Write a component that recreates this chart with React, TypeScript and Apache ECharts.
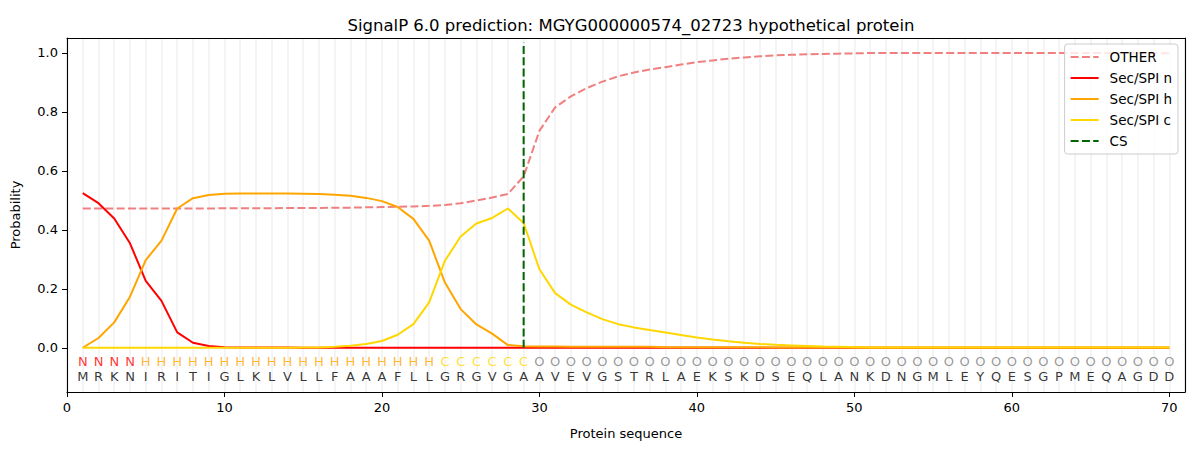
import React, { useEffect, useRef } from "react";
import * as echarts from "echarts";

const positions = Array.from({ length: 70 }, (_, i) => i + 1);
const aminoAcids = "MRKNIRITIGLKLVLLFAAAFLLGRGVGAAVEVGSTRLAEKSKDSEQLANKDNGMLEYQESGPMEQAGDD".split("");
const regionLabels = "NNNNHHHHHHHHHHHHHHHHHHHCCCCCCOOOOOOOOOOOOOOOOOOOOOOOOOOOOOOOOOOOOOOOOO".split("");

const otherProb = [
  0.472, 0.472, 0.472, 0.472, 0.472, 0.472, 0.472, 0.472, 0.472, 0.473,
  0.473, 0.473, 0.473, 0.474, 0.474, 0.474, 0.475, 0.475, 0.476, 0.477,
  0.478, 0.479, 0.481, 0.484, 0.490, 0.499, 0.509, 0.521, 0.581, 0.735,
  0.815, 0.852, 0.880, 0.902, 0.920, 0.933, 0.943, 0.951, 0.960, 0.968,
  0.974, 0.980, 0.984, 0.988, 0.991, 0.993, 0.995, 0.996, 0.997, 0.998,
  0.999, 0.999, 0.999, 0.999, 0.999, 0.999, 0.999, 0.999, 0.999, 0.999,
  0.999, 0.999, 0.999, 0.999, 0.999, 0.999, 0.999, 0.999, 0.998, 0.998,
];
const secN = [
  0.524, 0.490, 0.438, 0.354, 0.227, 0.159, 0.052, 0.017, 0.006, 0.002,
  0.001, 0.001, 0.001, 0.001, 0.0, 0.0, 0.0, 0.0, 0.0, 0.0,
  0.0, 0.0, 0.0, 0.0, 0.0, 0.0, 0.0, 0.0, 0.0, 0.0,
  0.0, 0.0, 0.0, 0.0, 0.0, 0.0, 0.0, 0.0, 0.0, 0.0,
  0.0, 0.0, 0.0, 0.0, 0.0, 0.0, 0.0, 0.0, 0.0, 0.0,
  0.0, 0.0, 0.0, 0.0, 0.0, 0.0, 0.0, 0.0, 0.0, 0.0,
  0.0, 0.0, 0.0, 0.0, 0.0, 0.0, 0.0, 0.0, 0.0, 0.0,
];
const secH = [
  0.0, 0.033, 0.086, 0.173, 0.297, 0.363, 0.472, 0.507, 0.518, 0.522,
  0.523, 0.523, 0.523, 0.523, 0.522, 0.521, 0.519, 0.515, 0.508, 0.497,
  0.477, 0.437, 0.363, 0.221, 0.131, 0.079, 0.048, 0.009, 0.005, 0.004,
  0.004, 0.003, 0.003, 0.003, 0.003, 0.003, 0.003, 0.002, 0.002, 0.002,
  0.002, 0.002, 0.002, 0.002, 0.001, 0.001, 0.001, 0.001, 0.001, 0.001,
  0.001, 0.001, 0.001, 0.001, 0.001, 0.001, 0.001, 0.001, 0.001, 0.001,
  0.001, 0.001, 0.001, 0.001, 0.001, 0.001, 0.001, 0.001, 0.001, 0.001,
];
const secC = [
  0.0, 0.0, 0.0, 0.0, 0.0, 0.0, 0.0, 0.0, 0.0, 0.0,
  0.0, 0.0, 0.0, 0.0, 0.001, 0.001, 0.003, 0.007, 0.013, 0.023,
  0.044, 0.080, 0.154, 0.295, 0.377, 0.421, 0.440, 0.472, 0.423, 0.266,
  0.185, 0.146, 0.120, 0.097, 0.080, 0.069, 0.060, 0.052, 0.043, 0.035,
  0.028, 0.022, 0.017, 0.013, 0.010, 0.008, 0.006, 0.004, 0.003, 0.002,
  0.001, 0.001, 0.001, 0.001, 0.001, 0.001, 0.001, 0.001, 0.001, 0.001,
  0.001, 0.001, 0.001, 0.001, 0.001, 0.001, 0.001, 0.001, 0.001, 0.001,
];
const cleavageSite = 29;
const xTicks = [0, 10, 20, 30, 40, 50, 60, 70];
const yTicks = [0, 0.2, 0.4, 0.6, 0.8, 1.0];

const FONT = "DejaVu Sans";
const labelColors: Record<string, string> = {
  N: "#ff0000",
  H: "#ffa500",
  C: "#ffd700",
  O: "#808080",
};

export default function App() {
  const ref = useRef<HTMLDivElement>(null);
  useEffect(() => {
    if (!ref.current) return;
    const chart = echarts.init(ref.current, undefined, { renderer: "svg" });
    const pair = (arr: number[]) => positions.map((p, i) => [p, arr[i]]);
    const lineSeries = (name: string, data: number[], color: string, dashed: boolean) => ({
      name,
      type: "line",
      data: pair(data),
      symbol: "none",
      lineStyle: { color, width: 2, type: dashed ? [8, 3.3] : "solid" },
      itemStyle: { color },
      z: 3,
    });
    const frameAxis = {
      axisLine: { show: true, onZero: false, lineStyle: { color: "#000", width: 1.1 } },
      axisTick: { show: false },
      axisLabel: { show: false },
      splitLine: { show: false },
    };
    chart.setOption({
      animation: false,
      title: {
        text: "SignalP 6.0 prediction: MGYG000000574_02723 hypothetical protein",
        left: 626,
        textAlign: "center",
        top: 12,
        textStyle: { fontFamily: FONT, fontSize: 16.5, fontWeight: "normal", color: "#000" },
      },
      grid: {
        left: 67,
        right: 15,
        top: 38,
        bottom: 58,
      },
      legend: {
        data: ["OTHER", "Sec/SPI n", "Sec/SPI h", "Sec/SPI c", "CS"],
        orient: "vertical",
        right: 22,
        top: 44,
        itemWidth: 28,
        itemHeight: 14,
        itemGap: 7,
        padding: [6, 6, 6, 5],
        backgroundColor: "rgba(255,255,255,0.8)",
        borderColor: "#cccccc",
        borderWidth: 1,
        borderRadius: 3,
        itemStyle: { opacity: 0, borderWidth: 0 },
        textStyle: { fontFamily: FONT, fontSize: 13.5, color: "#000", padding: [0, 0, 0, 6] },
      },
      xAxis: [
        {
          type: "value",
          min: 0,
          max: 71,
          interval: 10,
          name: "Protein sequence",
          nameLocation: "middle",
          nameGap: 35,
          nameTextStyle: { fontFamily: FONT, fontSize: 13, color: "#000" },
          axisLine: { show: true, onZero: false, lineStyle: { color: "#000", width: 1.1 } },
          axisTick: { show: true, length: 5, lineStyle: { color: "#000" }, customValues: xTicks },
          axisLabel: {
            fontFamily: FONT,
            fontSize: 13,
            color: "#000",
            margin: 9,
            customValues: xTicks,
            formatter: (v: number) => String(v),
          },
          splitLine: { show: false },
          z: 6,
        },
        {
          type: "value",
          min: 0,
          max: 71,
          position: "top",
          ...frameAxis,
          z: 6,
        },
        {
          type: "value",
          min: 0,
          max: 71,
          interval: 1,
          position: "bottom",
          axisLine: { show: false },
          axisTick: { show: false },
          axisLabel: { show: false },
          splitLine: { show: true, lineStyle: { color: "#f0f0f0", width: 1.5 } },
          z: 0,
        },
      ],
      yAxis: [
        {
          type: "value",
          min: -0.15,
          max: 1.05,
          name: "Probability",
          nameLocation: "middle",
          nameGap: 45,
          nameTextStyle: { fontFamily: FONT, fontSize: 13, color: "#000" },
          axisLine: { show: true, onZero: false, lineStyle: { color: "#000", width: 1.1 } },
          axisTick: { show: true, length: 5, lineStyle: { color: "#000" }, customValues: yTicks },
          axisLabel: {
            fontFamily: FONT,
            fontSize: 13,
            color: "#000",
            margin: 9,
            customValues: yTicks,
            formatter: (v: number) => v.toFixed(1),
          },
          splitLine: { show: false },
          z: 6,
        },
        {
          type: "value",
          min: -0.15,
          max: 1.05,
          position: "right",
          ...frameAxis,
          z: 6,
        },
      ],
      series: [
        lineSeries("OTHER", otherProb, "#f08080", true),
        lineSeries("Sec/SPI n", secN, "#ff0000", false),
        lineSeries("Sec/SPI h", secH, "#ffa500", false),
        lineSeries("Sec/SPI c", secC, "#ffd700", false),
        {
          name: "CS",
          type: "line",
          data: [
            [cleavageSite, 0],
            [cleavageSite, 1.035],
          ],
          symbol: "none",
          lineStyle: { color: "#006400", width: 2, type: [8, 3.3] },
          itemStyle: { color: "#006400" },
          z: 4,
        },
        {
          name: "regions",
          type: "scatter",
          symbolSize: 1,
          itemStyle: { color: "transparent" },
          silent: true,
          data: positions.map((p, i) => ({
            value: [p, -0.047],
            label: { color: labelColors[regionLabels[i]], formatter: regionLabels[i] },
          })),
          label: {
            show: true,
            position: "inside",
            fontFamily: FONT,
            fontSize: 13,
          },
          z: 5,
        },
        {
          name: "aa",
          type: "scatter",
          symbolSize: 1,
          itemStyle: { color: "transparent" },
          silent: true,
          data: positions.map((p, i) => ({
            value: [p, -0.098],
            label: { formatter: aminoAcids[i] },
          })),
          label: {
            show: true,
            position: "inside",
            fontFamily: FONT,
            fontSize: 13,
            color: "#000",
          },
          z: 5,
        },
      ],
    });
    return () => chart.dispose();
  }, []);
  return (
    <div
      ref={ref}
      style={{ position: "fixed", left: 0, top: 0, width: 1200, height: 450, background: "#fff" }}
    />
  );
}
